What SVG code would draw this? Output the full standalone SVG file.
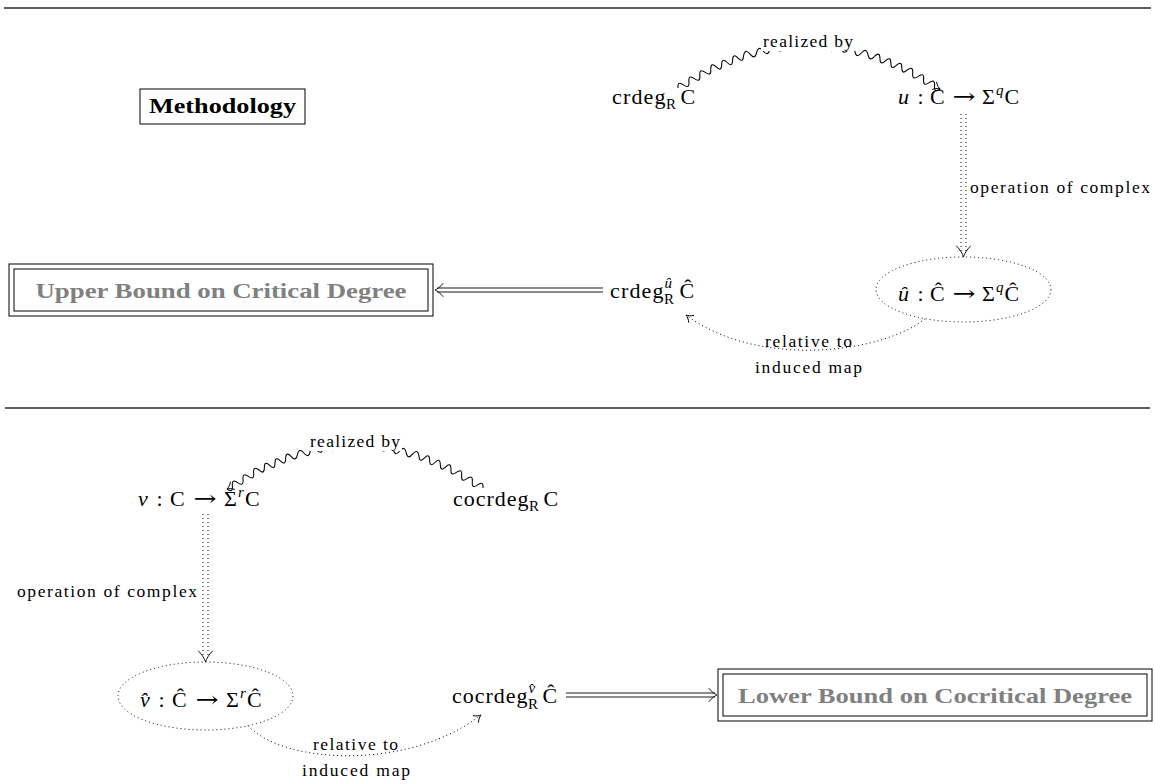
<svg xmlns="http://www.w3.org/2000/svg" xmlns:xlink="http://www.w3.org/1999/xlink" width="1155" height="784" viewBox="0 0 1155 784">
<defs>
<style>
text{font-family:"Liberation Serif","Times New Roman",serif;fill:#000}
.m{font-size:22px}
.ar{font-family:"DejaVu Serif",serif;font-size:22px}
.i{font-style:italic}
.s{font-size:15px}
.l{font-size:17.5px}
.b{font-size:22px;font-weight:bold}
.g{fill:#808080}
.rule{stroke:#2a2a2a;stroke-width:1.3}
.ln{fill:none;stroke:#000;stroke-width:0.9}
.wv{fill:none;stroke:#000;stroke-width:1.05;stroke-linejoin:round}
.dot{fill:none;stroke:#000;stroke-width:1;stroke-dasharray:1 3}
.box{fill:#fff;stroke:#000;stroke-width:1}
</style>
<path id="tipTo" d="M-6.5,-4.2 C-4.5,-1.8 -1.8,-0.5 0,0 C-1.8,0.5 -4.5,1.8 -6.5,4.2" fill="none" stroke="#000" stroke-width="0.9" stroke-linecap="round"/>
<path id="tipV" d="M-11,-7 C-7,-3 -2.5,-0.6 0,0 C-2.5,0.6 -7,3 -11,7" fill="none" stroke="#000" stroke-width="0.9" stroke-linecap="round"/>
<path id="tipImp" d="M-8,-6.5 C-5.5,-3.2 -2,-0.8 0,0 C-2,0.8 -5.5,3.2 -8,6.5" fill="none" stroke="#000" stroke-width="0.9" stroke-linecap="round"/>
</defs>
<rect width="1155" height="784" fill="#fff"/>
<g id="rules">
<line class="rule" x1="4" y1="8" x2="1151" y2="8"/>
<line class="rule" x1="5" y1="408" x2="1150" y2="408"/>
</g>
<g id="connectors">
<g id="wavy-top">
<path class="wv" transform="translate(678,88) rotate(-29.86)" d="M0,0q3.147,-7 6.293,0t6.293,0t6.293,0t6.293,0t6.293,0t6.293,0"/>
<path class="wv" transform="translate(710.75,69.2) rotate(-22.25)" d="M0,0q2.949,-7 5.898,0t5.898,0t5.898,0t5.898,0t5.898,0t5.898,0"/>
<path class="wv" transform="translate(743.5,55.8) rotate(-13.68)" d="M0,0q3.371,-7 6.742,0t6.742,0t6.742,0t6.742,0t6.742,0"/>
<path class="wv" transform="translate(776.25,47.83) rotate(-4.5)" d="M0,0q3.285,7 6.57,0t6.57,0t6.57,0t6.57,0t6.57,0"/>
<path class="wv" transform="translate(809,45.25) rotate(4.94)" d="M0,0q3.287,-7 6.574,0t6.574,0t6.574,0t6.574,0t6.574,0"/>
<path class="wv" transform="translate(841.75,48.08) rotate(14.1)" d="M0,0q3.377,7 6.754,0t6.754,0t6.754,0t6.754,0t6.754,0"/>
<path class="wv" transform="translate(874.5,56.31) rotate(22.6)" d="M0,0q2.957,-7 5.913,0t5.913,0t5.913,0t5.913,0t5.913,0t5.913,0"/>
<path class="wv" transform="translate(907.25,69.95) rotate(30.2)" d="M0,0q3.158,-7 6.315,0t6.315,0t6.315,0t6.315,0t6.315,0t6.315,0"/>
<use xlink:href="#tipTo" href="#tipTo" transform="translate(940,89) rotate(30.2)"/>
<rect x="761" y="33" width="94" height="18" fill="#fff"/>
</g>
<use id="wavy-bottom" xlink:href="#wavy-top" href="#wavy-top" transform="translate(355,400) scale(-0.977,1) translate(-809,0)"/>
<text class="l" x="808" y="47" text-anchor="middle" textLength="90">realized by</text>
<text class="l" x="355" y="447" text-anchor="middle" textLength="90">realized by</text>

<line class="dot" x1="961" y1="114" x2="961" y2="253"/>
<line class="dot" x1="966" y1="114" x2="966" y2="253"/>
<use xlink:href="#tipV" href="#tipV" transform="translate(963.5,257) rotate(90)"/>
<text class="l" x="970" y="193" textLength="180">operation of complex</text>

<line class="dot" x1="203" y1="514" x2="203" y2="658"/>
<line class="dot" x1="208" y1="514" x2="208" y2="658"/>
<use xlink:href="#tipV" href="#tipV" transform="translate(205.5,662) rotate(90)"/>
<text class="l" x="17" y="597" textLength="180">operation of complex</text>

<line class="ln" x1="437" y1="288" x2="603" y2="288"/>
<line class="ln" x1="437" y1="292" x2="603" y2="292"/>
<use xlink:href="#tipImp" href="#tipImp" transform="translate(435,290) rotate(180)"/>

<line class="ln" x1="566" y1="693" x2="715" y2="693"/>
<line class="ln" x1="566" y1="697" x2="715" y2="697"/>
<use xlink:href="#tipImp" href="#tipImp" transform="translate(717,695)"/>

<path class="dot" d="M925,318.7 C885,352 760,370 686,315"/>
<use xlink:href="#tipTo" href="#tipTo" transform="translate(686,315) rotate(-143.4)"/>
<text class="l" x="808.5" y="347" text-anchor="middle" textLength="87">relative to</text>
<text class="l" x="808.5" y="373" text-anchor="middle" textLength="107">induced map</text>

<path class="dot" d="M248,725.7 C285,765 410,770 481,715"/>
<use xlink:href="#tipTo" href="#tipTo" transform="translate(481,715) rotate(-37.8)"/>
<text class="l" x="355.5" y="750" text-anchor="middle" textLength="85">relative to</text>
<text class="l" x="356" y="776" text-anchor="middle" textLength="108">induced map</text>
</g>

<g id="methodology">
<rect class="box" x="140" y="89" width="165" height="35"/>
<text class="b" x="222.5" y="113" text-anchor="middle" textLength="147" lengthAdjust="spacingAndGlyphs">Methodology</text>
</g>

<g id="upper-bound">
<rect class="box" x="9" y="264" width="424" height="52"/>
<rect class="box" x="14" y="269" width="414" height="42"/>
<text class="b g" x="221" y="297.5" text-anchor="middle" textLength="371" lengthAdjust="spacingAndGlyphs">Upper Bound on Critical Degree</text>
</g>

<g id="lower-bound">
<rect class="box" x="718" y="669" width="434" height="52"/>
<rect class="box" x="723" y="674" width="424" height="42"/>
<text class="b g" x="935" y="702.5" text-anchor="middle" textLength="394" lengthAdjust="spacingAndGlyphs">Lower Bound on Cocritical Degree</text>
</g>

<g id="crdeg">
<text class="m" x="612" y="104" textLength="53.5">crdeg</text>
<text class="m s" x="666" y="109">R</text>
<text class="m" x="680.5" y="104">C</text>
</g>

<g id="u-map">
<text class="m" y="104"><tspan class="i" x="898">u</tspan><tspan x="917.5">:</tspan><tspan x="930">C</tspan><tspan x="982">Σ</tspan><tspan class="i s" x="996" y="95">q</tspan><tspan x="1004.5" y="104">C</tspan></text>
<text class="ar" x="952.5" y="104" textLength="23" lengthAdjust="spacingAndGlyphs">→</text>
</g>

<g id="u-hat">
<ellipse class="dot" cx="963.5" cy="289.5" rx="87.5" ry="32.5"/>
<text class="m" y="301"><tspan class="i" x="898">û</tspan><tspan x="917.5">:</tspan><tspan x="930">Ĉ</tspan><tspan x="982">Σ</tspan><tspan class="i s" x="996" y="292">q</tspan><tspan x="1004.5" y="301">Ĉ</tspan></text>
<text class="ar" x="952.5" y="301" textLength="23" lengthAdjust="spacingAndGlyphs">→</text>
</g>

<g id="crdeg-hat">
<text class="m" x="610" y="298" textLength="53.5">crdeg</text>
<text class="m s i" x="664.5" y="288">û</text>
<text class="m s" x="664" y="303.5">R</text>
<text class="m" x="679.5" y="298">Ĉ</text>
</g>

<g id="v-map">
<text class="m" y="506"><tspan class="i" x="138">v</tspan><tspan x="156.5">:</tspan><tspan x="170">C</tspan><tspan x="224">Σ</tspan><tspan class="i s" x="238" y="497">r</tspan><tspan x="245" y="506">C</tspan></text>
<text class="ar" x="193.5" y="506" textLength="23" lengthAdjust="spacingAndGlyphs">→</text>
</g>

<g id="cocrdeg">
<text class="m" x="453" y="506" textLength="75.4">cocrdeg</text>
<text class="m s" x="529" y="511">R</text>
<text class="m" x="543.5" y="506">C</text>
</g>

<g id="v-hat">
<ellipse class="dot" cx="205.5" cy="696" rx="87.5" ry="34"/>
<text class="m" y="707"><tspan class="i" x="140">v&#x302;</tspan><tspan x="158.5">:</tspan><tspan x="172">Ĉ</tspan><tspan x="226">Σ</tspan><tspan class="i s" x="240" y="698">r</tspan><tspan x="247" y="707">Ĉ</tspan></text>
<text class="ar" x="195.5" y="707" textLength="23" lengthAdjust="spacingAndGlyphs">→</text>
</g>

<g id="cocrdeg-hat">
<text class="m" x="452" y="703" textLength="75.4">cocrdeg</text>
<text class="m s i" x="528.5" y="693">v&#x302;</text>
<text class="m s" x="528" y="708.5">R</text>
<text class="m" x="542.5" y="703">Ĉ</text>
</g>
</svg>
